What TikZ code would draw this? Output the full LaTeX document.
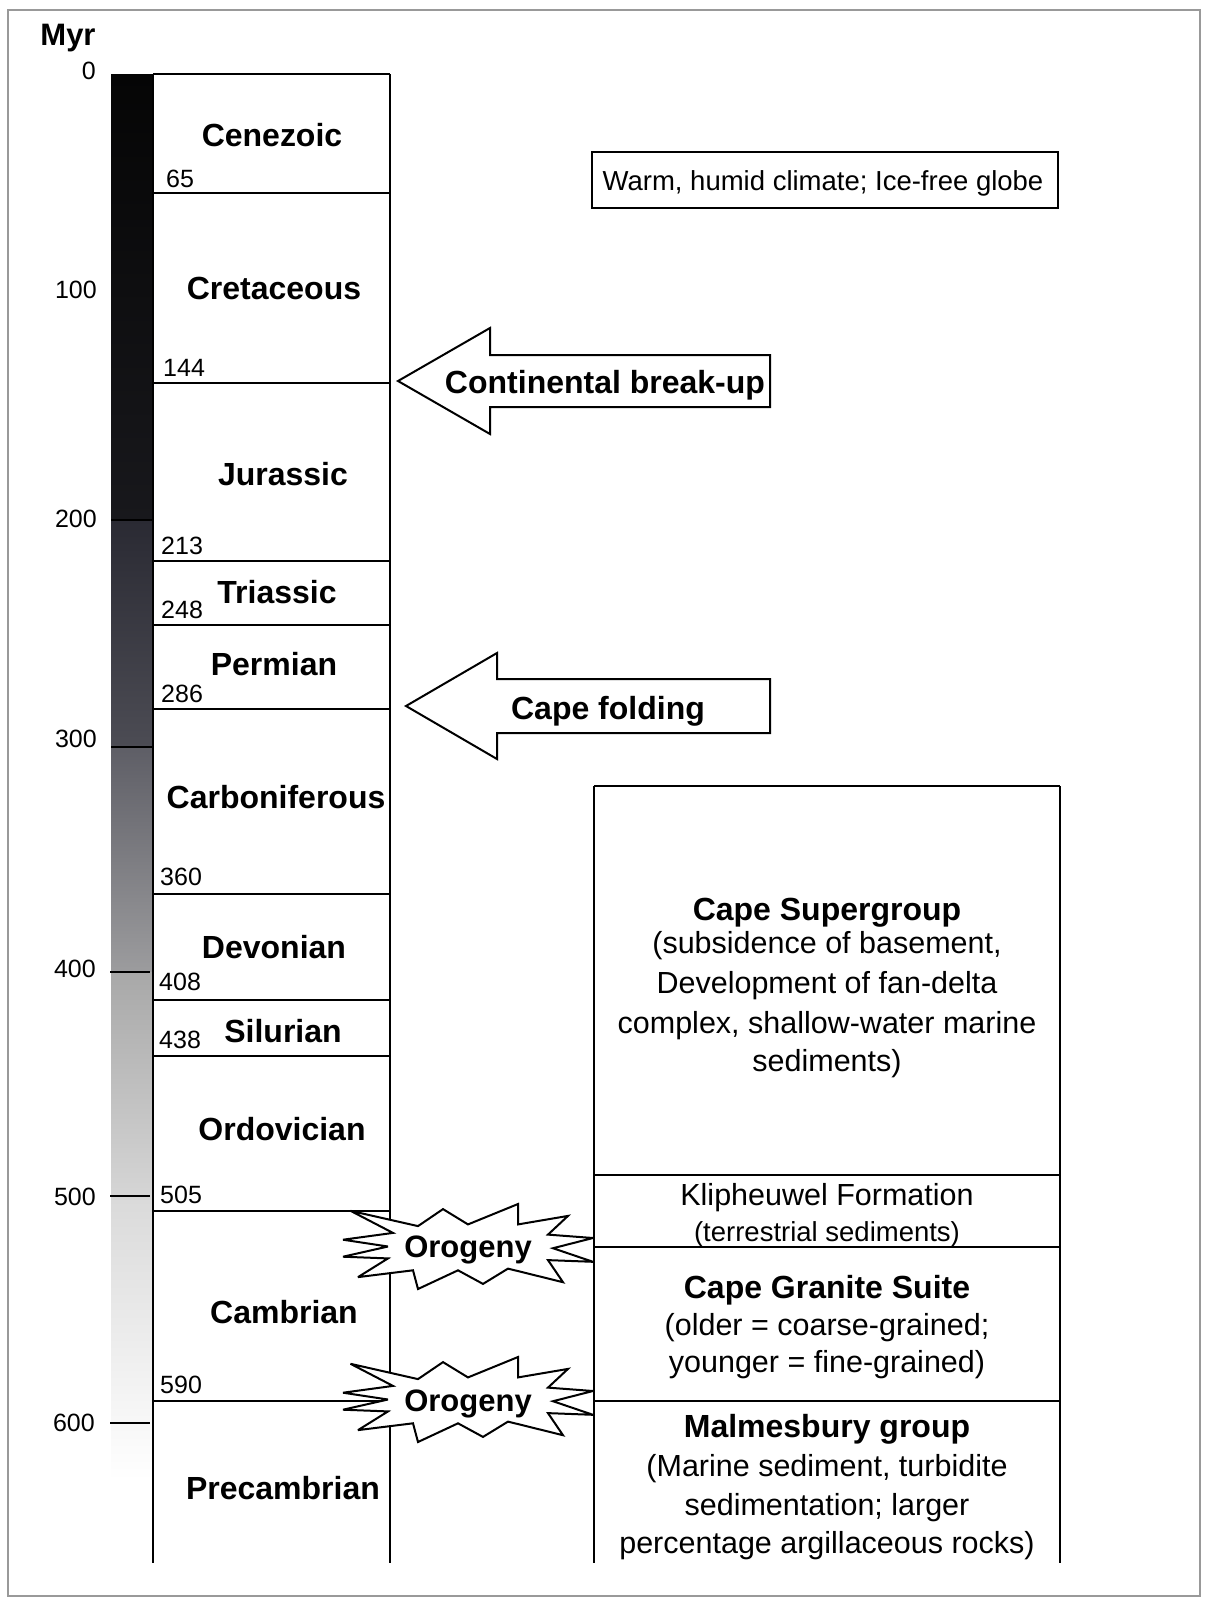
\documentclass[tikz,border=0pt]{standalone}
\usepackage{fontspec}
\setmainfont{Liberation Sans}
\definecolor{barA}{HTML}{050505}
\definecolor{barB}{HTML}{18181C}
\definecolor{barC}{HTML}{2A2A33}
\definecolor{barD}{HTML}{4C4C54}
\definecolor{barE}{HTML}{5E5E66}
\definecolor{barF}{HTML}{9C9C9E}
\definecolor{barG}{HTML}{A8A8A8}
\definecolor{barH}{HTML}{D6D6D6}
\definecolor{barI}{HTML}{DADADA}
\begin{document}
\begin{tikzpicture}[x=1pt,y=-1pt]
\tikzset{
  per/.style={font=\fontsize{32}{38}\selectfont\bfseries, inner sep=0pt, anchor=base},
  num/.style={font=\fontsize{25}{30}\selectfont, inner sep=0pt, anchor=base west},
  tickl/.style={font=\fontsize{25}{30}\selectfont, inner sep=0pt, anchor=base east},
  rtitle/.style={font=\fontsize{32}{38}\selectfont\bfseries, inner sep=0pt, anchor=base},
  rtext/.style={font=\fontsize{30.5}{36}\selectfont, inner sep=0pt, anchor=base},
  rsmall/.style={font=\fontsize{27.5}{32}\selectfont, inner sep=0pt, anchor=base},
  ln/.style={line width=2.4pt},
  blockarrow/.style={draw, line width=2pt, fill=white, line join=miter},
  starline/.style={draw, line width=2pt, fill=white, line join=miter, miter limit=4},
  oro/.style={font=\fontsize{31}{36}\selectfont\bfseries, inner sep=0pt, anchor=base},
  tickmark/.style={line width=2.4pt}
}
% canvas
\useasboundingbox (0,0) rectangle (1215,1607);
\fill[white] (0,0) rectangle (1215,1607);
\draw[gray!80, line width=1.5pt] (8,10) rectangle (1200,1596);

% time bar
\shade[top color=barA, bottom color=barB] (111,74) rectangle (153,520);
\shade[top color=barC, bottom color=barD] (111,520) rectangle (153,747);
\shade[top color=barE, bottom color=barF] (111,747) rectangle (153,972);
\shade[top color=barG, bottom color=barH] (111,972) rectangle (153,1200);
\shade[top color=barI, bottom color=white] (111,1200) rectangle (153,1480);
\draw[tickmark] (111,520) -- (153,520);
\draw[tickmark] (111,747) -- (153,747);
\draw[tickmark] (110,972) -- (150,972);
\draw[tickmark] (110,1196) -- (150,1196);
\draw[tickmark] (110,1423) -- (150,1423);

% scale labels
\node[font=\fontsize{31}{36}\selectfont\bfseries, inner sep=0pt, anchor=base] (myr) at (68,45) {Myr};
\node[tickl] (t0) at (96,79) {0};
\node[tickl] (t100) at (97,298) {100};
\node[tickl] (t200) at (97,527) {200};
\node[tickl] (t300) at (97,747) {300};
\node[tickl] (t400) at (96,977) {400};
\node[tickl] (t500) at (96,1205) {500};
\node[tickl] (t600) at (95,1431) {600};

% period column
\draw[ln] (153,74) -- (153,1563);
\draw[ln] (390,74) -- (390,1563);
\foreach \yy in {74,193,383,561,625,709,894,1000,1056,1211,1401}
  \draw[ln] (153,\yy) -- (390,\yy);

\node[per] (cen) at (272,146) {Cenezoic};
\node[per] (cre) at (274,299) {Cretaceous};
\node[per] (jur) at (283,485) {Jurassic};
\node[per] (tri) at (277,603) {Triassic};
\node[per] (pem) at (274,675) {Permian};
\node[per] (car) at (276,808) {Carboniferous};
\node[per] (dev) at (274,958) {Devonian};
\node[per] (sil) at (283,1042) {Silurian};
\node[per] (ord) at (282,1140) {Ordovician};
\node[per] (cam) at (284,1323) {Cambrian};
\node[per] (pre) at (283,1499) {Precambrian};

\node[num] (n65) at (166,187) {65};
\node[num] (n144) at (163,376) {144};
\node[num] (n213) at (161,554) {213};
\node[num] (n248) at (161,618) {248};
\node[num] (n286) at (161,702) {286};
\node[num] (n360) at (160,885) {360};
\node[num] (n408) at (159,990) {408};
\node[num] (n438) at (159,1048) {438};
\node[num] (n505) at (160,1203) {505};
\node[num] (n590) at (160,1393) {590};

% warm box
\draw[line width=2pt] (592,152) rectangle (1058,208);
\node[font=\fontsize{27.5}{32}\selectfont, inner sep=0pt, anchor=base] (warm) at (823,190) {Warm, humid climate; Ice-free globe};

% block arrows
\draw[blockarrow] (398,381) -- (490,328) -- (490,355) -- (770,355) -- (770,407) -- (490,407) -- (490,434) -- cycle;
\node[per] (brk) at (605,393) {Continental break-up};
\draw[blockarrow] (406,706) -- (497,653) -- (497,679) -- (770,679) -- (770,733) -- (497,733) -- (497,759) -- cycle;
\node[per] (fold) at (608,719) {Cape folding};

% right column
\draw[ln] (594,786) -- (594,1563);
\draw[ln] (1060,786) -- (1060,1563);
\foreach \yy in {786,1175,1247,1401}
  \draw[ln] (594,\yy) -- (1060,\yy);

\node[rtitle] (cs1) at (827,920) {Cape Supergroup};
\node[rtext] (cs2) at (827,953) {(subsidence of basement,};
\node[rtext] (cs3) at (827,993) {Development of fan-delta};
\node[rtext] (cs4) at (827,1033) {complex, shallow-water marine};
\node[rtext] (cs5) at (827,1071) {sediments)};

\node[rtext] (kl1) at (827,1205) {Klipheuwel Formation};
\node[rsmall] (kl2) at (827,1241) {(terrestrial sediments)};

\node[rtitle] (cg1) at (827,1298) {Cape Granite Suite};
\node[rtext] (cg2) at (827,1335) {(older = coarse-grained;};
\node[rtext] (cg3) at (827,1372) {younger = fine-grained)};

\node[rtitle] (mg1) at (827,1437) {Malmesbury group};
\node[rtext] (mg2) at (827,1476) {(Marine sediment, turbidite};
\node[rtext] (mg3) at (827,1515) {sedimentation; larger};
\node[rtext] (mg4) at (827,1553) {percentage argillaceous rocks)};

% orogeny bursts
\foreach \sy/\ty/\nm in {1204/1257/oroA, 1357/1411/oroB}{
  \begin{scope}[shift={(343,\sy)}, xscale=250, yscale=85]
    \draw[starline] (0.00,0.42) -- (0.20,0.34) -- (0.03,0.08) -- (0.30,0.26)
      -- (0.40,0.06) -- (0.50,0.24) -- (0.70,0.00) -- (0.70,0.24) -- (0.90,0.14)
      -- (0.82,0.36) -- (1.00,0.40) -- (0.84,0.52) -- (1.00,0.68) -- (0.82,0.66)
      -- (0.88,0.92) -- (0.66,0.76) -- (0.56,0.94) -- (0.46,0.78) -- (0.30,1.00)
      -- (0.28,0.78) -- (0.06,0.86) -- (0.18,0.64) -- (0.00,0.62) -- (0.18,0.50) -- cycle;
  \end{scope}
  \node[oro] (\nm) at (468,\ty) {Orogeny};
}
\end{tikzpicture}
\end{document}
